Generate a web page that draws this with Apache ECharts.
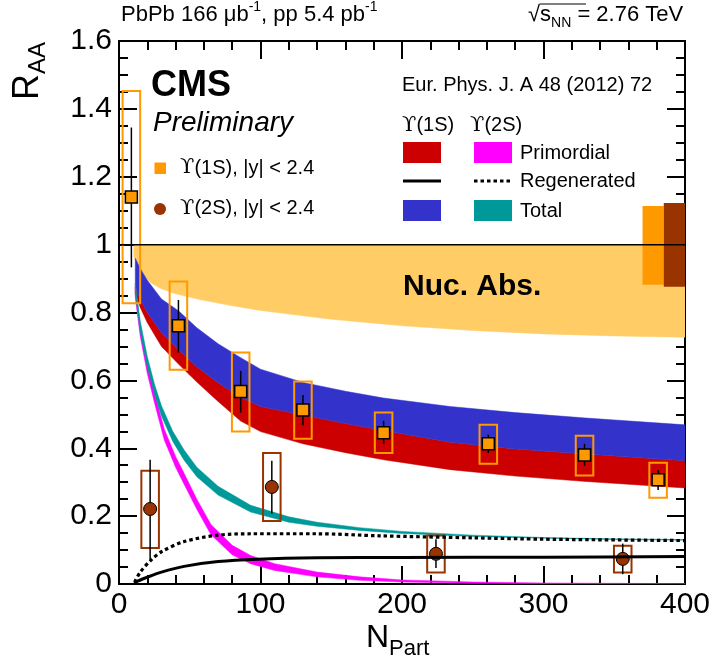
<!DOCTYPE html>
<html><head><meta charset="utf-8">
<script src="https://cdn.jsdelivr.net/npm/echarts@6/dist/echarts.min.js"></script>
<style>html,body{margin:0;padding:0;background:#fff}#c{width:713px;height:668px}</style>
</head><body><div id="c"></div>
<script>
// ---------- data ----------
const xTicks = [0, 100, 200, 300, 400];
const yTicks = [0, 0.2, 0.4, 0.6, 0.8, 1, 1.2, 1.4, 1.6];

// Upsilon(1S) measurement
const y1sN = [8.75, 42, 86, 130, 187, 261, 329, 381];
const y1sR = [1.14, 0.761, 0.567, 0.513, 0.446, 0.413, 0.38, 0.307];
const y1sStatLo = [0.933, 0.682, 0.505, 0.468, 0.412, 0.386, 0.348, 0.277];
const y1sStatHi = [1.345, 0.837, 0.628, 0.557, 0.481, 0.44, 0.413, 0.336];
const y1sSysLo = [0.827, 0.631, 0.449, 0.428, 0.386, 0.354, 0.32, 0.254];
const y1sSysHi = [1.453, 0.891, 0.682, 0.597, 0.505, 0.469, 0.437, 0.357];

// Upsilon(2S) measurement
const y2sN = [22, 108, 224, 356];
const y2sR = [0.221, 0.286, 0.089, 0.074];
const y2sStatLo = [0.072, 0.207, 0.047, 0.029];
const y2sStatHi = [0.366, 0.363, 0.132, 0.119];
const y2sSysLo = [0.106, 0.186, 0.034, 0.034];
const y2sSysHi = [0.334, 0.386, 0.143, 0.113];

// global uncertainties (1S, 2S)
const globN0 = [370, 385];
const globN1 = [385, 400];
const globLo = [0.882, 0.876];
const globHi = [1.114, 1.123];

// reference line at unity
const unityN = [0, 400];
const unityR = [1, 1];

// Nuclear absorption band
const nucN = [10.5, 15, 20, 23, 30, 40, 57, 80, 100, 150, 200, 250, 300, 350, 400];
const nucLo = [0.965, 0.925, 0.897, 0.886, 0.87, 0.855, 0.838, 0.82, 0.806, 0.78, 0.761, 0.747, 0.737, 0.731, 0.727];
const nucHi = [1, 1, 1, 1, 1, 1, 1, 1, 1, 1, 1, 1, 1, 1, 1];

// Upsilon(1S) model: primordial (red) and total (blue)
const m1sN = [11.5, 15, 20, 30, 42, 55, 70, 86, 100, 130, 160, 187, 234, 280, 330, 400];
const m1sTotHi = [0.96, 0.93, 0.895, 0.84, 0.805, 0.755, 0.708, 0.667, 0.633, 0.594, 0.568, 0.548, 0.523, 0.505, 0.489, 0.469];
const m1sMid = [0.875, 0.84, 0.80, 0.74, 0.69, 0.64, 0.593, 0.55, 0.523, 0.498, 0.473, 0.452, 0.418, 0.398, 0.383, 0.363];
const m1sPrimLo = [0.855, 0.815, 0.77, 0.70, 0.648, 0.595, 0.538, 0.48, 0.449, 0.413, 0.387, 0.366, 0.337, 0.318, 0.302, 0.283];

// Upsilon(2S) model: total (teal)
const tealN = [11.5, 15, 20, 25, 30, 38, 46, 55, 70, 93, 120, 140, 170, 200, 250, 300, 350, 400];
const tealHi = [0.885, 0.775, 0.67, 0.59, 0.525, 0.45, 0.395, 0.344, 0.288, 0.232, 0.198, 0.182, 0.166, 0.155, 0.144, 0.137, 0.133, 0.131];
const tealLo = [0.855, 0.745, 0.64, 0.56, 0.495, 0.42, 0.365, 0.316, 0.262, 0.212, 0.182, 0.170, 0.158, 0.149, 0.140, 0.135, 0.131, 0.129];

// Upsilon(2S) model: primordial (magenta)
const magN = [11.5, 15, 20, 25, 32, 40, 46, 55, 65, 80, 93, 110, 140, 170, 200, 250, 300, 350, 400];
const magHi = [0.875, 0.76, 0.65, 0.565, 0.456, 0.376, 0.326, 0.25, 0.175, 0.114, 0.084, 0.06, 0.035, 0.021, 0.012, 0.006, 0.003, 0.002, 0.001];
const magLo = [0.845, 0.73, 0.62, 0.535, 0.424, 0.344, 0.294, 0.22, 0.145, 0.086, 0.06, 0.04, 0.021, 0.011, 0.006, 0.002, 0.001, 0.0, 0.0];

// Regenerated components
const reg1sN = [11, 12, 20, 30, 46, 70, 98, 140, 200, 300, 400];
const reg1sR = [0.0, 0.006, 0.02, 0.035, 0.052, 0.066, 0.073, 0.077, 0.078, 0.079, 0.081];
const reg2sN = [11, 15, 23, 30, 46, 70, 93, 140, 184, 250, 300, 400];
const reg2sR = [0.005, 0.035, 0.072, 0.095, 0.125, 0.144, 0.148, 0.148, 0.142, 0.136, 0.132, 0.128];

// ---------- styling ----------
const FONT = '"Liberation Sans", Arial, Helvetica, sans-serif';
const UFONT = '"DejaVu Serif", serif';
const C_ORANGE = '#FF9900', C_BROWN = '#993300', C_NUC = '#FFCC66', C_RED = '#CC0000',
      C_BLUE = '#3333CC', C_MAG = '#FF00FF', C_TEAL = '#009999';
const BOX_HALF = 6.2;

const zip = (a, b) => a.map((v, i) => [v, b[i]]);

function band(xs, lo, hi, color) {
  return {
    type: 'custom', animation: false, silent: true, clip: true,
    data: xs.map((x, i) => [x, lo[i], hi[i]]),
    encode: { x: 0, y: [1, 2] },
    renderItem: function (params, api) {
      if (params.dataIndex !== 0) return null;
      const pts = [];
      for (let i = 0; i < xs.length; i++) pts.push(api.coord([xs[i], hi[i]]));
      for (let i = xs.length - 1; i >= 0; i--) pts.push(api.coord([xs[i], lo[i]]));
      return { type: 'polygon', shape: { points: pts }, style: { fill: color, stroke: color, lineWidth: 0.5 } };
    }
  };
}

function boxSeries(xs, lo, hi, color) {
  return {
    type: 'custom', animation: false, silent: true,
    data: xs.map((x, i) => [x, lo[i], hi[i]]),
    encode: { x: 0, y: [1, 2] },
    renderItem: function (params, api) {
      const n = api.value(0), l = api.value(1), h = api.value(2);
      const p1 = api.coord([n - BOX_HALF, h]);
      const p2 = api.coord([n + BOX_HALF, l]);
      return { type: 'rect', shape: { x: p1[0], y: p1[1], width: p2[0] - p1[0], height: p2[1] - p1[1] },
        style: { fill: 'none', stroke: color, lineWidth: 2 } };
    }
  };
}

function errSeries(xs, lo, hi) {
  return {
    type: 'custom', animation: false, silent: true,
    data: xs.map((x, i) => [x, lo[i], hi[i]]),
    encode: { x: 0, y: [1, 2] },
    renderItem: function (params, api) {
      const n = api.value(0);
      const p1 = api.coord([n, api.value(2)]);
      const p2 = api.coord([n, api.value(1)]);
      return { type: 'line', shape: { x1: p1[0], y1: p1[1], x2: p2[0], y2: p2[1] },
        style: { stroke: '#000', lineWidth: 1.5 } };
    }
  };
}

function globSeries() {
  const colors = [C_ORANGE, C_BROWN];
  return {
    type: 'custom', animation: false, silent: true,
    data: globN0.map((x, i) => [x, globN1[i], globLo[i], globHi[i]]),
    encode: { x: [0, 1], y: [2, 3] },
    renderItem: function (params, api) {
      const p1 = api.coord([api.value(0), api.value(3)]);
      const p2 = api.coord([api.value(1), api.value(2)]);
      return { type: 'rect', shape: { x: p1[0], y: p1[1], width: p2[0] - p1[0], height: p2[1] - p1[1] },
        style: { fill: colors[params.dataIndex] } };
    }
  };
}

const tickStyle = { color: '#000', width: 2 };
function xAx(pos, labels) {
  return {
    type: 'value', position: pos, min: xTicks[0], max: xTicks[xTicks.length - 1], interval: 100,
    axisLine: { show: true, onZero: false, lineStyle: { color: '#000', width: 2 } },
    axisTick: { show: true, inside: true, length: 18, lineStyle: tickStyle },
    minorTick: { show: true, splitNumber: 5, length: 9, lineStyle: tickStyle },
    axisLabel: { show: labels, fontSize: 30, fontFamily: FONT, color: '#000', margin: 6 },
    splitLine: { show: false }, minorSplitLine: { show: false }
  };
}
function yAx(pos, labels) {
  return {
    type: 'value', position: pos, min: yTicks[0], max: yTicks[yTicks.length - 1], interval: 0.2,
    axisLine: { show: true, onZero: false, lineStyle: { color: '#000', width: 2 } },
    axisTick: { show: true, inside: true, length: 18, lineStyle: tickStyle },
    minorTick: { show: true, splitNumber: 4, length: 9, lineStyle: tickStyle },
    axisLabel: { show: labels, fontSize: 30, fontFamily: FONT, color: '#000', margin: 7 },
    splitLine: { show: false }, minorSplitLine: { show: false }
  };
}

const series = [
  band(nucN, nucLo, nucHi, C_NUC),
  band(m1sN, m1sPrimLo, m1sMid, C_RED),
  band(m1sN, m1sMid, m1sTotHi, C_BLUE),
  band(magN, magLo, magHi, C_MAG),
  band(tealN, tealLo, tealHi, C_TEAL),
  { type: 'line', data: zip(reg1sN, reg1sR), symbol: 'none', smooth: 0.3,
    lineStyle: { color: '#000', width: 3 }, animation: false, silent: true },
  { type: 'line', data: zip(reg2sN, reg2sR), symbol: 'none', smooth: 0.3,
    lineStyle: { color: '#000', width: 3.2, type: [3.5, 3], cap: 'butt' }, animation: false, silent: true },
  { type: 'line', data: zip(unityN, unityR), symbol: 'none',
    lineStyle: { color: '#000', width: 1.5 }, animation: false, silent: true },
  globSeries(),
  boxSeries(y1sN, y1sSysLo, y1sSysHi, C_ORANGE),
  boxSeries(y2sN, y2sSysLo, y2sSysHi, C_BROWN),
  errSeries(y1sN, y1sStatLo, y1sStatHi),
  errSeries(y2sN, y2sStatLo, y2sStatHi),
  { type: 'scatter', data: zip(y1sN, y1sR), symbol: 'rect', symbolSize: 12, animation: false, silent: true,
    itemStyle: { color: C_ORANGE, borderColor: '#000', borderWidth: 1.5, opacity: 1 } },
  { type: 'scatter', data: zip(y2sN, y2sR), symbol: 'circle', symbolSize: 13, animation: false, silent: true,
    itemStyle: { color: C_BROWN, borderColor: '#000', borderWidth: 1, opacity: 1 } }
];

function txt(x, y, text, opts) {
  return { type: 'text', x: x, y: y, z: 100,
    style: Object.assign({ text: text, fontFamily: FONT, fontSize: 20, fill: '#000',
      align: 'left', verticalAlign: 'middle' }, opts || {}) };
}
const upsRich = {
  u: { fontSize: 21, fontFamily: UFONT, lineHeight: 26, verticalAlign: 'middle' },
  t: { fontSize: 20, fontFamily: FONT, lineHeight: 26, verticalAlign: 'middle' }
};

const graphics = [
  // top labels
  txt(121, 15, '{m|PbPb 166 μb}{s|-1}{m|, pp 5.4 pb}{s|-1}', {
    rich: { m: { fontSize: 22, fontFamily: FONT, lineHeight: 30, verticalAlign: 'middle' },
            s: { fontSize: 14, fontFamily: FONT, lineHeight: 30, verticalAlign: 'top' } } }),
  txt(528, 15, '{m|√}{m|s}{b|NN}{m| = 2.76 TeV}', {
    rich: { m: { fontSize: 22, fontFamily: FONT, lineHeight: 30, verticalAlign: 'middle' },
            b: { fontSize: 14, fontFamily: FONT, lineHeight: 30, verticalAlign: 'bottom' } } }),
  { type: 'line', z: 100, shape: { x1: 540, y1: 4, x2: 586, y2: 4 }, style: { stroke: '#000', lineWidth: 1 } },
  // axis titles
  { type: 'text', x: 28, y: 100, rotation: Math.PI / 2, z: 100,
    style: { text: '{m|R}{b|AA}', align: 'left', verticalAlign: 'middle',
      rich: { m: { fontSize: 36, fontFamily: FONT, lineHeight: 44, verticalAlign: 'middle' },
              b: { fontSize: 24, fontFamily: FONT, lineHeight: 44, verticalAlign: 'bottom' } } } },
  txt(366, 638, '{m|N}{b|Part}', {
    rich: { m: { fontSize: 32, fontFamily: FONT, lineHeight: 44, verticalAlign: 'middle' },
            b: { fontSize: 22, fontFamily: FONT, lineHeight: 44, verticalAlign: 'bottom' } } }),
  // CMS labels
  txt(151, 86, 'CMS', { fontSize: 36, fontWeight: 'bold' }),
  txt(153, 123, 'Preliminary', { fontSize: 28, fontStyle: 'italic' }),
  // data legend
  { type: 'rect', z: 100, shape: { x: 154.5, y: 162.5, width: 11.5, height: 11.5 }, style: { fill: C_ORANGE } },
  txt(180, 168, '{u|ϒ}{t|(1S), |y| < 2.4}', { rich: upsRich }),
  { type: 'circle', z: 100, shape: { cx: 160, cy: 209, r: 6 }, style: { fill: C_BROWN } },
  txt(180, 208.5, '{u|ϒ}{t|(2S), |y| < 2.4}', { rich: upsRich }),
  // model legend
  txt(402, 85, 'Eur. Phys. J. A 48 (2012) 72'),
  txt(402, 125.5, '{u|ϒ}{t|(1S)}', { rich: upsRich }),
  txt(470, 125.5, '{u|ϒ}{t|(2S)}', { rich: upsRich }),
  { type: 'rect', z: 100, shape: { x: 403, y: 142, width: 38, height: 21 }, style: { fill: C_RED } },
  { type: 'rect', z: 100, shape: { x: 474, y: 142, width: 38, height: 21 }, style: { fill: C_MAG } },
  txt(520, 153, 'Primordial'),
  { type: 'line', z: 100, shape: { x1: 403, y1: 181, x2: 441, y2: 181 }, style: { stroke: '#000', lineWidth: 3 } },
  { type: 'line', z: 100, shape: { x1: 474, y1: 181, x2: 512, y2: 181 }, style: { stroke: '#000', lineWidth: 3.2, lineDash: [3.5, 3] } },
  txt(520, 181, 'Regenerated'),
  { type: 'rect', z: 100, shape: { x: 403, y: 200, width: 38, height: 21 }, style: { fill: C_BLUE } },
  { type: 'rect', z: 100, shape: { x: 474, y: 200, width: 38, height: 21 }, style: { fill: C_TEAL } },
  txt(520, 211, 'Total'),
  txt(403, 287, 'Nuc. Abs.', { fontSize: 30, fontWeight: 'bold' })
];

const chart = echarts.init(document.getElementById('c'), null, { renderer: 'canvas' });
chart.setOption({
  animation: false,
  backgroundColor: '#fff',
  grid: { left: 119, right: 28, top: 41, bottom: 84, containLabel: false, outerBoundsMode: 'none' },
  xAxis: [xAx('bottom', true), xAx('top', false)],
  yAxis: [yAx('left', true), yAx('right', false)],
  series: series,
  graphic: graphics
});
</script></body></html>
